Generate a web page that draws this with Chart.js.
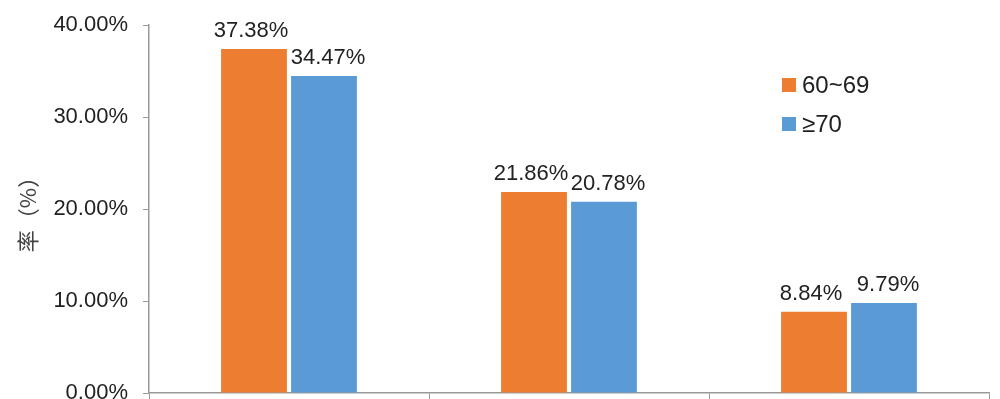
<!DOCTYPE html>
<html>
<head>
<meta charset="utf-8">
<script src="https://cdn.jsdelivr.net/npm/chart.js@4/dist/chart.umd.min.js"></script>
<style>
  html, body { margin: 0; padding: 0; background: #fff; }
  #wrap { width: 1000px; height: 399px; }
</style>
</head>
<body>
<div id="wrap"><canvas id="canvas"></canvas></div>
<script>
// categories are cut off below the axis in the picture, so their labels stay hidden
const categories = ["组1", "组2", "组3"];
const seriesNames = ["60~69", "≥70"];
const age60to69 = [37.38, 21.86, 8.84];
const age70plus = [34.47, 20.78, 9.79];
const yTicks = [0, 10, 20, 30, 40];

const colors = {
  orange: "#ED7D31",
  blue: "#5B9BD5",
  axis: "#9a9a9a",
  text: "#222222"
};

const fontFamily = "'Liberation Sans', Arial, sans-serif";

// value labels above each bar
const barLabels = {
  id: "barLabels",
  afterDatasetsDraw(chart) {
    const ctx = chart.ctx;
    ctx.save();
    ctx.font = "22px " + fontFamily;
    ctx.fillStyle = colors.text;
    ctx.textAlign = "center";
    ctx.textBaseline = "alphabetic";
    chart.data.datasets.forEach((ds, i) => {
      const meta = chart.getDatasetMeta(i);
      const shift = i === 0 ? -3 : 4;
      meta.data.forEach((bar, j) => {
        ctx.fillText(ds.data[j].toFixed(2) + "%", bar.x + shift, bar.y - 12);
      });
    });
    ctx.restore();
  }
};

// legend sits inside the plot on the right
const innerLegend = {
  id: "innerLegend",
  afterDraw(chart) {
    const ctx = chart.ctx;
    ctx.save();
    ctx.font = "24px " + fontFamily;
    ctx.textBaseline = "middle";
    ctx.textAlign = "left";
    chart.data.datasets.forEach((ds, i) => {
      const y = 85 + i * 39;
      ctx.fillStyle = ds.backgroundColor;
      ctx.fillRect(782, y - 7, 14, 14);
      ctx.fillStyle = colors.text;
      ctx.fillText(ds.label, 802, y + 1);
    });
    ctx.restore();
  }
};

const ctx = document.getElementById("canvas").getContext("2d");

const options = {
  type: "bar",
  data: {
    labels: categories,
    datasets: [
      {
        label: seriesNames[0],
        data: age60to69,
        backgroundColor: colors.orange,
        categoryPercentage: 0.5,
        barPercentage: 0.94
      },
      {
        label: seriesNames[1],
        data: age70plus,
        backgroundColor: colors.blue,
        categoryPercentage: 0.5,
        barPercentage: 0.94
      }
    ]
  },
  options: {
    responsive: true,
    maintainAspectRatio: false,
    animation: false,
    layout: {
      padding: { top: 25, right: 11, bottom: 0, left: 0 }
    },
    scales: {
      x: {
        ticks: { display: false },
        afterFit: (scale) => {
          scale.height = 6;
          scale.paddingLeft = 0;
          scale.paddingRight = 0;
        },
        grid: {
          offset: true,
          drawOnChartArea: false,
          drawTicks: true,
          tickLength: 6,
          color: colors.axis
        },
        border: { display: true, color: colors.axis, width: 1.5 }
      },
      y: {
        min: 0,
        max: 40,
        afterBuildTicks: (scale) => {
          scale.ticks = yTicks.map(v => ({ value: v }));
        },
        afterFit: (scale) => {
          // let the bottom label run off the edge like the original crop
          scale.width = 149;
          scale.paddingTop = 0;
          scale.paddingBottom = 0;
        },
        ticks: {
          padding: 15,
          color: colors.text,
          font: { family: fontFamily, size: 22 },
          callback: (v) => v.toFixed(2) + "%"
        },
        grid: {
          drawOnChartArea: false,
          drawTicks: true,
          tickLength: 6,
          color: colors.axis
        },
        border: { display: true, color: colors.axis, width: 1.5 },
        title: {
          display: true,
          text: "率（%）",
          color: "#444",
          padding: { top: 14, bottom: 0 },
          font: { family: "'Noto Sans CJK SC', sans-serif", size: 22 }
        }
      }
    },
    plugins: {
      legend: { display: false },
      tooltip: { enabled: false }
    }
  },
  plugins: [barLabels, innerLegend]
};

window.myBar = new Chart(ctx, options);
</script>
</body>
</html>
